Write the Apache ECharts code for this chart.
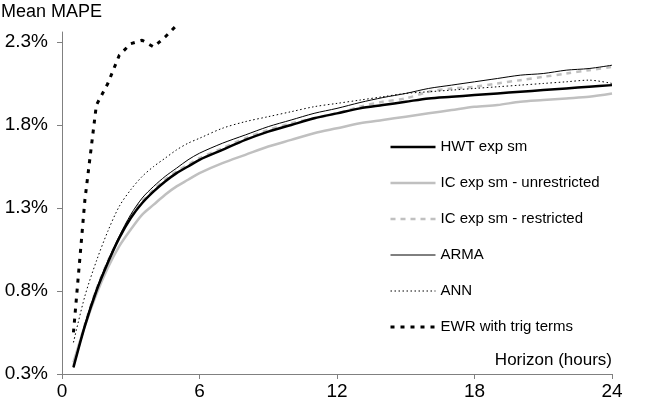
<!DOCTYPE html>
<html>
<head>
<meta charset="utf-8">
<script src="https://cdn.jsdelivr.net/npm/echarts@6/dist/echarts.min.js"></script>
<style>
html,body{margin:0;padding:0;background:#fff;}
#chart{width:646px;height:407px;}
</style>
</head>
<body>
<div id="chart"></div>
<script>
// Horizons (hours)
var hours = [0.5,1,1.5,2,2.5,3,3.5,4,4.5,5,5.5,6,7,8,9,10,11,12,13,14,15,16,17,18,19,20,21,22,23,24];
var ewrHours = [0.5,1,1.5,2,2.5,3,3.5,4,4.5,5];

// Mean MAPE (%) per method
var hwt   = [0.34,0.59,0.80,0.97,1.12,1.24,1.33,1.40,1.46,1.51,1.55,1.59,1.65,1.71,1.76,1.80,1.84,1.87,1.90,1.92,1.94,1.96,1.97,1.98,1.99,2.00,2.01,2.02,2.03,2.04];
var icUnr = [0.37,0.59,0.78,0.94,1.07,1.17,1.26,1.32,1.38,1.43,1.47,1.51,1.57,1.62,1.67,1.71,1.75,1.78,1.81,1.83,1.85,1.87,1.89,1.91,1.92,1.94,1.95,1.96,1.97,1.99];
var icRes = [0.35,0.60,0.81,0.98,1.12,1.25,1.34,1.41,1.47,1.52,1.56,1.60,1.66,1.72,1.77,1.81,1.84,1.87,1.91,1.94,1.96,2.00,2.02,2.03,2.05,2.07,2.09,2.11,2.13,2.15];
var arma  = [0.34,0.60,0.81,0.98,1.13,1.26,1.36,1.43,1.49,1.54,1.59,1.63,1.69,1.74,1.79,1.83,1.87,1.90,1.935,1.965,1.99,2.02,2.04,2.06,2.08,2.10,2.11,2.13,2.14,2.16];
var ann   = [0.49,0.77,0.98,1.16,1.31,1.41,1.49,1.55,1.60,1.65,1.69,1.72,1.78,1.82,1.85,1.88,1.91,1.93,1.95,1.97,1.99,2.00,2.01,2.02,2.03,2.04,2.05,2.06,2.07,2.05];
var ewr   = [0.55,1.35,1.92,2.05,2.22,2.29,2.31,2.27,2.33,2.40];

// Axis ticks
var xTicks = [0,6,12,18,24];
var yTicks = [0.3,0.8,1.3,1.8,2.3];

function zip(xs, ys){ return xs.map(function(x,i){ return [x, ys[i]]; }); }

var FONT = 'Liberation Sans, Arial, sans-serif';
var chart = echarts.init(document.getElementById('chart'), null, {renderer:'canvas'});

function line(name, xs, ys, color, width, type, smooth){
  return {
    name: name, type: 'line', data: zip(xs, ys),
    symbol: 'none', showSymbol: false, smooth: smooth, clip: false,
    lineStyle: {color: color, width: width, type: type},
    itemStyle: {color: color},
    emphasis: {disabled: true}
  };
}

chart.setOption({
  animation: false,
  backgroundColor: '#fff',
  title: {
    text: 'Mean MAPE', left: 0, top: 1, padding: [2,2,2,1],
    textStyle: {fontFamily: FONT, fontSize: 18, fontWeight: 'normal', color: '#000'}
  },
  grid: {left: 62, right: 34, top: 32, bottom: 33, containLabel: false},
  legend: {
    orient: 'vertical', left: 384, top: 134,
    itemWidth: 45, itemHeight: 14, itemGap: 20,
    itemStyle: {opacity: 0},
    lineStyle: {width: 'inherit'},
    textStyle: {fontFamily: FONT, fontSize: 15, color: '#000', lineHeight: 16},
    data: ['HWT exp sm','IC exp sm - unrestricted','IC exp sm - restricted','ARMA','ANN','EWR with trig terms']
  },
  xAxis: {
    type: 'value', min: 0, max: 24, interval: 6,
    name: 'Horizon (hours)', nameLocation: 'end', nameGap: 0,
    nameTextStyle: {fontFamily: FONT, fontSize: 17, color: '#000', align: 'right', verticalAlign: 'bottom', padding: [0,0,5,0]},
    axisLine: {show: true, lineStyle: {color: '#808080', width: 1}},
    axisTick: {show: true, length: 5, lineStyle: {color: '#808080'}, customValues: xTicks},
    axisLabel: {fontFamily: FONT, fontSize: 19, color: '#000', margin: 8, customValues: xTicks},
    splitLine: {show: false}
  },
  yAxis: {
    type: 'value', min: 0.3, max: 2.36,
    axisLine: {show: true, lineStyle: {color: '#808080', width: 1}},
    axisTick: {show: true, length: 5, lineStyle: {color: '#808080'}, customValues: yTicks},
    axisLabel: {fontFamily: FONT, fontSize: 19, color: '#000', margin: 14, customValues: yTicks,
      formatter: function(v){ return v.toFixed(1) + '%'; }},
    splitLine: {show: false}
  },
  series: [
    line('IC exp sm - unrestricted', hours, icUnr, '#c0c0c0', 2.5, 'solid', 0.3),
    line('IC exp sm - restricted', hours, icRes, '#c0c0c0', 2.5, [5,5], 0.3),
    line('HWT exp sm', hours, hwt, '#000', 2.5, 'solid', 0.3),
    line('ARMA', hours, arma, '#000', 1, 'solid', 0.3),
    line('ANN', hours, ann, '#000', 1, [1.5,2.5], 0.3),
    line('EWR with trig terms', ewrHours, ewr, '#000', 3, [4,6], false)
  ]
});
</script>
</body>
</html>
